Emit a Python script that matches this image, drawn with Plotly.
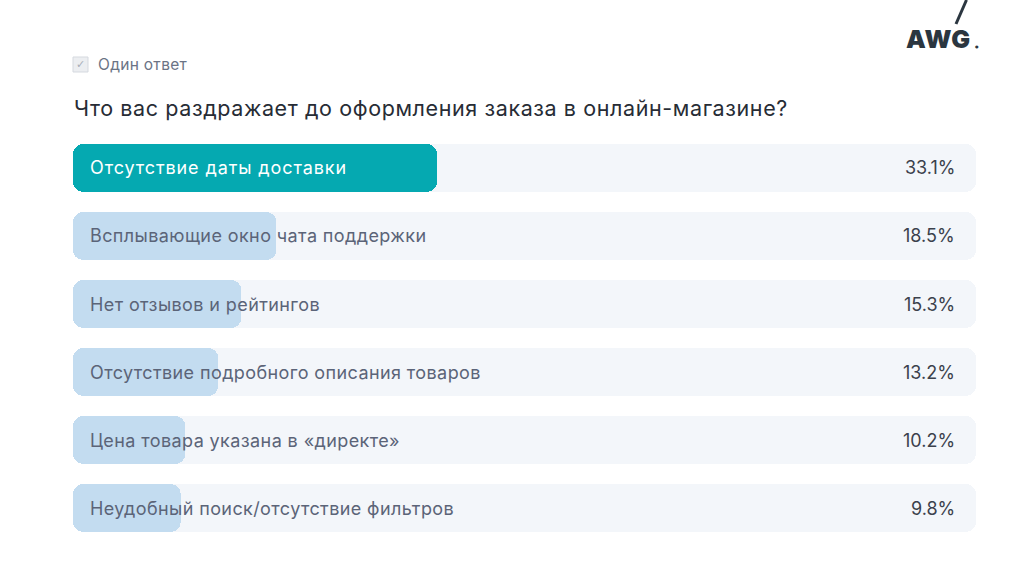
import plotly.graph_objects as go

categories = [
    "Отсутствие даты доставки",
    "Всплывающие окно чата поддержки",
    "Нет отзывов и рейтингов",
    "Отсутствие подробного описания товаров",
    "Цена товара указана в «директе»",
    "Неудобный поиск/отсутствие фильтров",
]
values = [33.1, 18.5, 15.3, 13.2, 10.2, 9.8]
value_labels = ["33.1%", "18.5%", "15.3%", "13.2%", "10.2%", "9.8%"]

W, H = 1024, 576
AXIS_MAX = 82.1


def px(x):
    return x / W


def py(y):
    return 1 - y / H


bar_colors = ["#05a9b1"] + ["#c3dcf0"] * (len(values) - 1)
label_colors = ["#ffffff"] + ["#5b6478"] * (len(values) - 1)
label_spacing = [0.9] + [0.4] * (len(values) - 1)
BW = 0.705

fig = go.Figure()


def add_rounded(xvals, colors):
    # two overlapping halves so both ends get rounded corners
    left_base = [v * 0.6 for v in xvals]
    right_base = [v * 0.4 for v in xvals]
    fig.add_trace(go.Bar(
        y=categories, x=[-b for b in left_base], base=left_base, orientation="h",
        marker=dict(color=colors, line=dict(width=0)), width=BW,
        hoverinfo="skip", showlegend=False,
    ))
    fig.add_trace(go.Bar(
        y=categories, x=[v - b for v, b in zip(xvals, right_base)], base=right_base,
        orientation="h",
        marker=dict(color=colors, line=dict(width=0)), width=BW,
        hoverinfo="skip", showlegend=False,
    ))


add_rounded([AXIS_MAX] * len(categories), "#f3f6fa")
add_rounded(values, bar_colors)

annotations = []
spacing = {}
for cat, lab, col, sp in zip(categories, value_labels, label_colors, label_spacing):
    spacing[len(annotations)] = sp
    annotations.append(dict(
        xref="x", yref="y", x=0, y=cat, text=cat, showarrow=False,
        xanchor="left", yanchor="middle", xshift=15, align="left",
        font=dict(family="Inter", size=18, color=col),
    ))
    annotations.append(dict(
        xref="x", yref="y", x=AXIS_MAX, y=cat, text=lab, showarrow=False,
        xanchor="right", yanchor="middle", xshift=-19, align="right",
        font=dict(family="Inter", size=18, color="#3b414c"),
    ))

spacing[len(annotations)] = 0.6
annotations.append(dict(
    xref="paper", yref="paper", x=px(72), y=py(108), align="left",
    text="Что вас раздражает до оформления заказа в онлайн-магазине?",
    showarrow=False, xanchor="left", yanchor="middle",
    font=dict(family="Inter", size=21.5, color="#272c35"),
))
spacing[len(annotations)] = 0.3
annotations.append(dict(
    xref="paper", yref="paper", x=px(96), y=py(64), text="Один ответ",
    showarrow=False, xanchor="left", yanchor="middle", align="left",
    font=dict(family="Inter", size=15.5, color="#6b7385"),
))
annotations.append(dict(
    xref="paper", yref="paper", x=px(80.5), y=py(64.5), text="✓",
    showarrow=False, xanchor="center", yanchor="middle",
    font=dict(family="DejaVu Sans", size=11, color="#a9afb9"),
))
spacing[len(annotations)] = 0.8
annotations.append(dict(
    xref="paper", yref="paper", x=px(904), y=py(38.5), text="AWG",
    showarrow=False, xanchor="left", yanchor="middle", align="left",
    font=dict(family="Inter", size=25, weight=900, color="#2b3640"),
))
annotations.append(dict(
    xref="paper", yref="paper", x=px(973), y=py(46), text="●",
    showarrow=False, xanchor="left", yanchor="middle",
    font=dict(family="DejaVu Sans", size=4, color="#2b3640"),
))

shapes = [
    dict(type="rect", xref="paper", yref="paper",
         x0=px(73), x1=px(88), y0=py(72), y1=py(57),
         line=dict(color="#d5d9df", width=1), fillcolor="#eceef1"),
    dict(type="line", xref="paper", yref="paper",
         x0=px(956), y0=py(24), x1=px(966.5), y1=py(0),
         line=dict(color="#2b3640", width=3)),
]

fig.update_layout(
    width=W, height=H,
    margin=dict(l=0, r=0, t=0, b=0),
    paper_bgcolor="#ffffff", plot_bgcolor="#ffffff",
    barmode="overlay", barcornerradius=10, bargap=0,
    xaxis=dict(domain=[px(73), px(976)], range=[0, AXIS_MAX], visible=False,
               fixedrange=True),
    yaxis=dict(domain=[py(542), py(134)], range=[len(categories) - 0.5, -0.5],
               visible=False, fixedrange=True, categoryorder="array",
               categoryarray=categories),
    annotations=annotations, shapes=shapes,
)

spacing_js = "{" + ",".join('"%d":%s' % (k, v) for k, v in spacing.items()) + "}"
post = """
document.body.style.margin = '0';
document.body.style.overflow = 'hidden';
var sp = %s;
function applySpacing(){
  var gd = document.getElementById('{plot_id}');
  gd.querySelectorAll('g.annotation').forEach(function(g){
    var i = g.getAttribute('data-index');
    var t = g.querySelector('text.annotation-text');
    if (t && sp[i] !== undefined) { t.style.letterSpacing = sp[i] + 'px'; }
  });
}
applySpacing();
""" % spacing_js

fig.write_html("out.html", post_script=post,
               config={"displayModeBar": False, "staticPlot": True})
